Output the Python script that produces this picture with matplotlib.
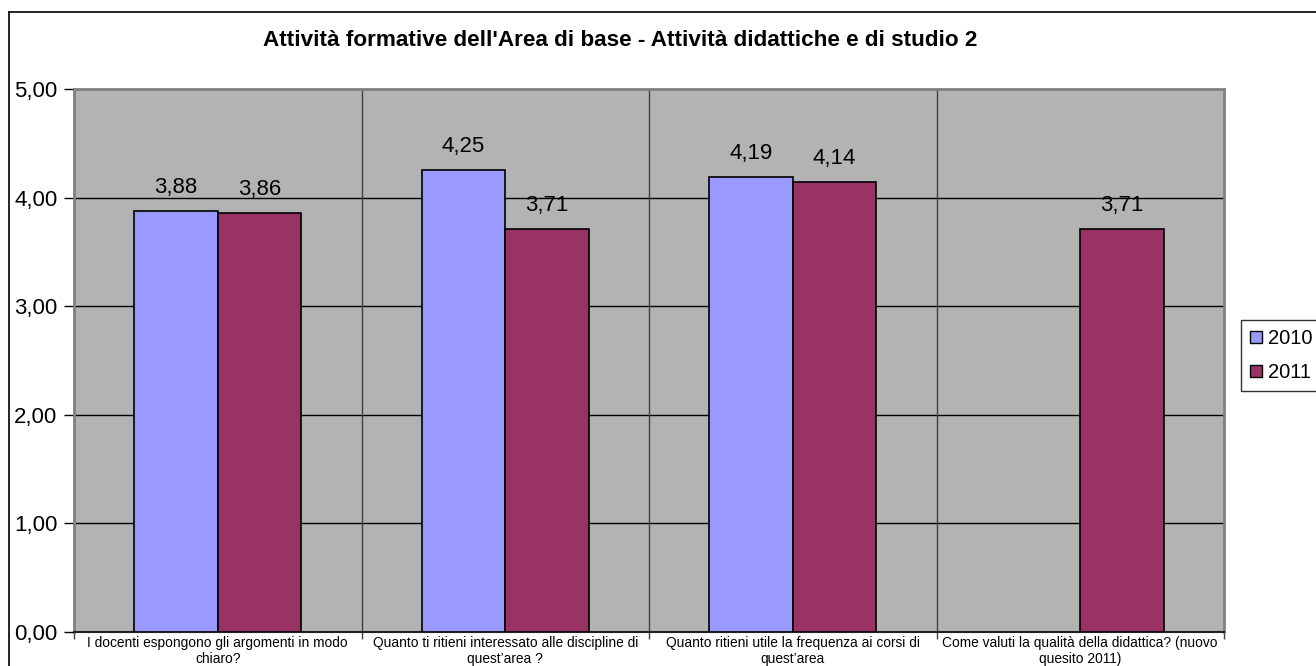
import numpy as np
import matplotlib
matplotlib.use('Agg')
import matplotlib.pyplot as plt
from matplotlib.patches import Patch
from matplotlib.lines import Line2D

plt.rcParams['font.family'] = ['Liberation Sans', 'DejaVu Sans']

title = "Attività formative dell'Area di base - Attività didattiche e di studio 2"
categories = [
    "I docenti espongono gli argomenti in modo\nchiaro?",
    "Quanto ti ritieni interessato alle discipline di\nquest’area ?",
    "Quanto ritieni utile la frequenza ai corsi di\nquest’area",
    "Come valuti la qualità della didattica? (nuovo\nquesito 2011)",
]
series_names = ['2010', '2011']
values_2010 = [3.88, 4.25, 4.19, np.nan]
values_2011 = [3.86, 3.71, 4.14, 3.71]
y_ticks = [0, 1, 2, 3, 4, 5]

colors = ['#9999FF', '#993366']

W, H = 1316, 666
fig = plt.figure(figsize=(W / 100, H / 100), dpi=100)
ax = fig.add_axes([74 / W, 1 - 632 / H, (1224 - 74) / W, (632 - 89) / H])
ax.set_facecolor('#B3B3B3')

x = np.arange(len(categories))
w = 0.29
for i, (vals, name) in enumerate(zip([values_2010, values_2011], series_names)):
    pos = x - w / 2 + i * w
    ax.bar(pos, vals, width=w, color=colors[i], edgecolor='black',
           linewidth=1.2, zorder=3, label=name)
    for p, v in zip(pos, vals):
        if np.isnan(v):
            continue
        ax.text(p, v + 0.12, f"{v:.2f}".replace('.', ','), ha='center',
                va='bottom', fontsize=16, zorder=4)

ax.set_xlim(-0.5, len(categories) - 0.5)
ax.set_ylim(0, 5)

for yv in y_ticks[1:-1]:
    ax.axhline(yv, color='black', linewidth=1, zorder=1)
for xv in np.arange(0.5, len(categories) - 0.5, 1):
    ax.axvline(xv, color='#404040', linewidth=1, zorder=1)

ax.set_yticks(y_ticks)
ax.set_yticklabels([f"{v:.2f}".replace('.', ',') for v in y_ticks], fontsize=16)
ax.tick_params(axis='y', length=7, width=1, pad=5)

ax.set_xticks(x)
ax.set_xticklabels(categories, fontsize=9.9, linespacing=1.15)
ax.tick_params(axis='x', which='major', length=0, pad=3)
ax.set_xticks(np.arange(-0.5, len(categories), 1), minor=True)
ax.tick_params(axis='x', which='minor', length=5, width=1, color='#404040')

for side in ['top', 'right', 'left']:
    ax.spines[side].set_color('#808080')
    ax.spines[side].set_linewidth(2)
ax.spines['bottom'].set_color('#202020')
ax.spines['bottom'].set_linewidth(1.5)

fig.text(620 / W, 1 - 41 / H, title, ha='center', va='center',
         fontsize=16.2, fontweight='bold')

handles = [Patch(facecolor=c, edgecolor='black', linewidth=1) for c in colors]
leg = fig.legend(handles, series_names, loc='upper left',
                 bbox_to_anchor=(1241 / W, 1 - 320 / H), fontsize=14.5,
                 frameon=True, fancybox=False, edgecolor='black',
                 handlelength=0.6, handleheight=0.6, handletextpad=0.3,
                 borderpad=0.45, labelspacing=0.75, borderaxespad=0)
leg.get_frame().set_linewidth(1)

# outer chart border (left and top visible)
fig.add_artist(Line2D([9 / W, 9 / W], [0, 1 - 12 / H], color='black', lw=1.2))
fig.add_artist(Line2D([9 / W, 1], [1 - 12 / H, 1 - 12 / H], color='black', lw=1.2))

fig.savefig('out.png', dpi=100)
